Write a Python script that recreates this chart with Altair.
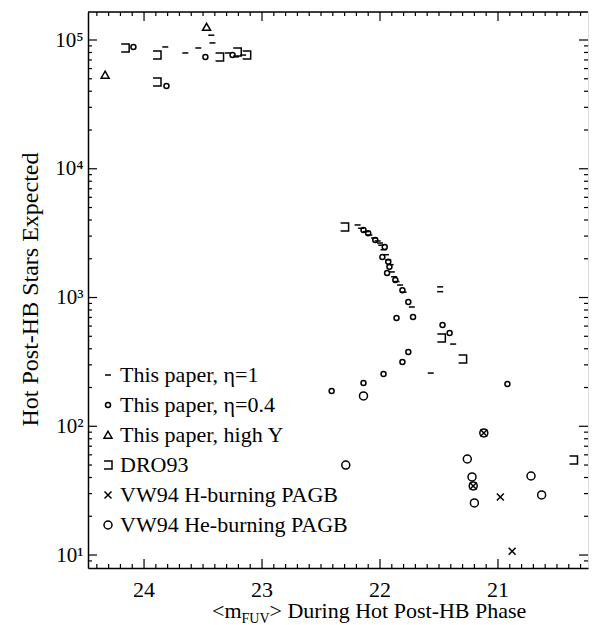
import altair as alt
import pandas as pd

# ---------------- data ----------------
series_names = ["This paper, η=1", "This paper, η=0.4", "This paper, high Y",
                "DRO93", "VW94 H-burning PAGB", "VW94 He-burning PAGB"]

eta1_m = [23.82, 23.65, 23.54, 23.43, 23.42, 23.29, 23.16, 23.22,
          22.19, 22.16, 22.12, 22.09, 22.05, 22.02, 22.00, 21.99, 21.97, 21.95, 21.93,
          21.91, 21.90, 21.88, 21.86, 21.83, 21.80,
          21.73, 21.49, 21.49, 21.57, 21.38]
eta1_n = [88300, 79300, 86700, 109000, 94900, 79300, 76400, 74000,
          3660, 3450, 3250, 3060, 2900, 2750, 2650, 2550, 2350, 2150, 1960,
          1800, 1580, 1450, 1330, 1250, 1100,
          844, 1210, 1110, 259, 435]

eta04_m = [24.09, 23.81, 23.48, 23.25,
           22.14, 22.10, 22.04, 21.96, 21.98, 21.93, 21.92, 21.94, 21.87, 21.81, 21.76,
           21.86, 21.72, 21.76, 21.81, 21.97, 22.14, 22.41, 20.92, 21.47, 21.41]
eta04_n = [88300, 44000, 73700, 76400,
           3340, 3150, 2800, 2470, 2060, 1900, 1730, 1550, 1370, 1140, 923,
           693, 706, 377, 316, 255, 217, 188, 213, 611, 530]

highy_m = [23.47, 24.33]
highy_n = [126000, 53500]

dro_m = [24.16, 23.89, 23.89, 23.36, 23.21, 23.13, 22.30, 21.48, 21.30, 20.36]
dro_n = [86700, 76400, 47200, 73700, 80700, 76400, 3530, 484, 333, 54.7]

vwh_m = [20.98, 20.88, 21.21, 21.12]
vwh_n = [28.2, 10.7, 34.4, 88.7]

vwhe_m = [22.14, 22.29, 21.26, 21.22, 21.20, 20.72, 20.63, 21.12, 21.21]
vwhe_n = [172, 50.0, 55.7, 40.4, 25.4, 41.1, 29.3, 88.7, 34.4]

x_major = [24, 23, 22, 21]
x_labels = ["24", "23", "22", "21"]
x_minor = [v / 10 for v in range(203, 245) if v % 10 != 0]
y_major = [10, 100, 1000, 10000, 100000]
y_minor = [k * 10 ** d for d in range(0, 5) for k in range(2, 10) if k * 10 ** d > 8]

title_parts = ["<m", "FUV", "> During Hot Post-HB Phase"]

rows = []
for name, ms, ns in zip(series_names,
                        [eta1_m, eta04_m, highy_m, dro_m, vwh_m, vwhe_m],
                        [eta1_n, eta04_n, highy_n, dro_n, vwh_n, vwhe_n]):
    for m, n in zip(ms, ns):
        rows.append({"m": m, "n": n, "series": name})
df = pd.DataFrame(rows)

# ---------------- style ----------------
W, H = 500, 556
FONT = "Liberation Serif"
shapes = [
    "M-0.6,0H0.6",
    "M-0.5,0A0.5,0.5,0,1,1,0.5,0A0.5,0.5,0,1,1,-0.5,0",
    "M0,-0.75L0.8,0.65L-0.8,0.65Z",
    "M-0.8,-0.8H0.8V0.8H-0.8",
    "M-0.7,-0.7L0.7,0.7M-0.7,0.7L0.7,-0.7",
    "M-0.8,0A0.8,0.8,0,1,1,0.8,0A0.8,0.8,0,1,1,-0.8,0",
]

xscale = alt.Scale(domain=[24.475, 20.237], nice=False, zero=False)
yscale = alt.Scale(type="log", domain=[7.93, 165000], nice=False)

xaxis = alt.Axis(values=x_major, ticks=False, grid=False, labels=False,
                 domain=True, domainColor="black", domainWidth=1.5, title=None)
yaxis = alt.Axis(values=y_major, ticks=False, grid=False,
                 domain=True, domainColor="black", domainWidth=1.5,
                 labelExpr="'10' + ['⁰','¹','²','³','⁴','⁵'][round(log(datum.value)/LN10)]",
                 labelFont=FONT, labelFontSize=21, labelColor="black",
                 labelPadding=5, labelBaseline="middle", labelOverlap=False,
                 title="Hot Post-HB Stars Expected", titleFont=FONT,
                 titleFontSize=24, titleFontWeight="normal", titleColor="black",
                 titleX=-58, titleY=277, titleAngle=270, titleAlign="center",
                 titleBaseline="middle")

points = alt.Chart(df).mark_point(
    filled=False, color="black", strokeWidth=1.5, size=100, opacity=1
).encode(
    x=alt.X("m:Q", scale=xscale, axis=xaxis),
    y=alt.Y("n:Q", scale=yscale, axis=yaxis),
    shape=alt.Shape("series:N", scale=alt.Scale(domain=series_names, range=shapes),
                    legend=alt.Legend(orient="none", legendX=9, legendY=352, title=None,
                                      labelFont=FONT, labelFontSize=22, labelColor="black",
                                      labelLimit=400, symbolSize=100, symbolStrokeWidth=1.5,
                                      symbolStrokeColor="black", symbolFillColor="white",
                                      rowPadding=8, labelOffset=1, padding=0)),
)


def xticks(vals, y0, y1):
    return alt.Chart(pd.DataFrame({"m": vals})).mark_rule(color="black", strokeWidth=1.2).encode(
        x=alt.X("m:Q", scale=xscale, axis=xaxis), y=alt.value(y0), y2=alt.value(y1))


def yticks(vals, x0, x1):
    return alt.Chart(pd.DataFrame({"n": vals})).mark_rule(color="black", strokeWidth=1.2).encode(
        y=alt.Y("n:Q", scale=yscale, axis=yaxis), x=alt.value(x0), x2=alt.value(x1))


top_line = alt.Chart(pd.DataFrame({"a": [0]})).mark_rule(color="black", strokeWidth=1.5).encode(
    x=alt.value(0), x2=alt.value(W), y=alt.value(0))


def title_piece(text, size, x, y):
    return alt.Chart(pd.DataFrame({"t": [text]})).mark_text(
        font=FONT, fontSize=size, align="left", baseline="alphabetic", color="black"
    ).encode(x=alt.value(x), y=alt.value(y), text="t:N")


t1 = title_piece(title_parts[0], 22, 124, 606)
t2 = title_piece(title_parts[1], 14, 153.5, 611)
t3 = title_piece(title_parts[2], 22, 181.5, 606)

xlab = alt.Chart(pd.DataFrame({"m": x_major, "lab": x_labels})).mark_text(
    font=FONT, fontSize=22, align="center", baseline="alphabetic", color="black"
).encode(x=alt.X("m:Q", scale=xscale, axis=xaxis), y=alt.value(585), text="lab:N")

chart = alt.layer(
    t1, t2, t3,
    points,
    xticks(x_major, H, H - 9), xticks(x_minor, H, H - 4),
    xticks(x_major, 0, 9), xticks(x_minor, 0, 4),
    yticks(y_major, 0, 9), yticks(y_minor, 0, 4),
    yticks(y_major, W, W - 9), yticks(y_minor, W, W - 4),
    top_line, xlab,
).properties(
    width=W, height=H,
    autosize=alt.AutoSizeParams(type="none"),
    padding={"left": 88, "top": 12, "right": 4, "bottom": 57},
).configure_view(stroke=None).configure(background="white")

chart.save("out.html", embed_options={"renderer": "svg", "actions": False})
